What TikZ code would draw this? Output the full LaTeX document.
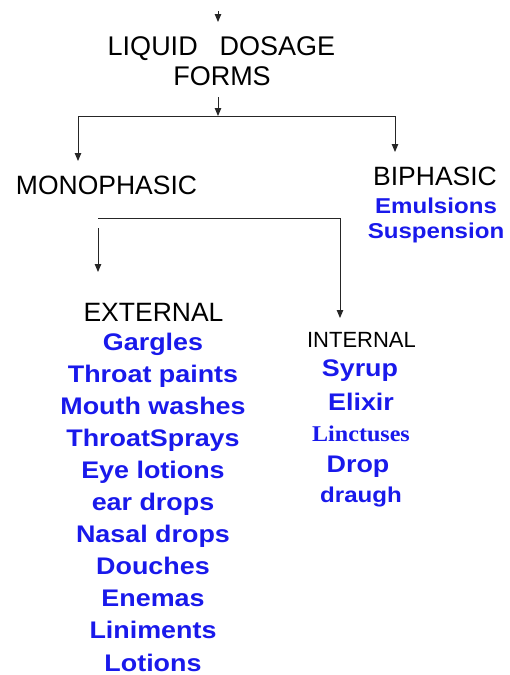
\documentclass[tikz,border=0pt]{standalone}
\usepackage{fontspec}
\setmainfont{Liberation Sans}
\newfontfamily\bluesans[FakeStretch=1.12]{Liberation Sans}
\newfontfamily\blueserif[FakeStretch=1.07]{Liberation Serif}
\usetikzlibrary{arrows.meta}
\definecolor{itemblue}{RGB}{25,25,235}
\tikzset{
  lbl/.style={anchor=base, inner sep=0pt, text=black, font=\fontsize{27}{27}\selectfont},
  sublbl/.style={anchor=base, inner sep=0pt, text=black, font=\fontsize{22}{22}\selectfont},
  item/.style={anchor=base, inner sep=0pt, text=itemblue, font=\bluesans\bfseries\fontsize{24}{24}\selectfont},
  smitem/.style={anchor=base, inner sep=0pt, text=itemblue, font=\bluesans\bfseries\fontsize{21.5}{21.5}\selectfont},
  serifitem/.style={anchor=base, inner sep=0pt, text=itemblue, font=\blueserif\bfseries\fontsize{22.5}{22.5}\selectfont},
  conn/.style={draw=black!85, line width=0.9pt},
  arr/.style={conn, -{Triangle[length=8pt,width=6.5pt]}}
}
\begin{document}
\begin{tikzpicture}[x=1pt,y=-1pt]
\useasboundingbox (0,0) rectangle (509,675);
% title
\node[lbl] (liq) at (221.5,55) {LIQUID\hspace{22pt}DOSAGE};
\node[lbl] (forms) at (222,85) {FORMS};
% top arrow
\coordinate (t0) at (218,11);
\coordinate (t1) at (218,22);
\draw[arr] (t0) -- (t1);
% first split
\coordinate (f0) at (218,97);
\coordinate (j1) at (218,116);
\coordinate (jl) at (78,116);
\coordinate (jr) at (395,116);
\coordinate (ml) at (78,161);
\coordinate (br) at (395,152);
\draw[arr] (f0) -- (j1);
\draw[conn] (jl) -- (jr);
\draw[arr] (jl) -- (ml);
\draw[arr] (jr) -- (br);
% level 2
\node[lbl,font=\fontsize{26.5}{26.5}\selectfont] (mono) at (106.5,194) {MONOPHASIC};
\node[lbl,font=\fontsize{26.5}{26.5}\selectfont] (bi) at (435,185) {BIPHASIC};
\node[smitem] (emul) at (436,213) {Emulsions};
\node[smitem] (susp) at (436,238) {Suspension};
% second split
\coordinate (h0) at (98,218);
\coordinate (h1) at (340,218);
\coordinate (h2) at (340,318);
\coordinate (e0) at (98,228);
\coordinate (e1) at (98,272);
\draw[conn] (h0) -- (h1);
\draw[arr] (h1) -- (h2);
\draw[arr] (e0) -- (e1);
% external
\node[lbl,font=\fontsize{26.5}{26.5}\selectfont] (ext) at (153.5,321) {EXTERNAL};
\node[item] (x1) at (153,350) {Gargles};
\node[item] (x2) at (153,382.1) {Throat paints};
\node[item] (x3) at (153,414.2) {Mouth washes};
\node[item] (x4) at (153,446.3) {ThroatSprays};
\node[item] (x5) at (153,478.4) {Eye lotions};
\node[item] (x6) at (153,510.5) {ear drops};
\node[item] (x7) at (153,542.6) {Nasal drops};
\node[item] (x8) at (153,574.7) {Douches};
\node[item] (x9) at (153,606.8) {Enemas};
\node[item] (x10) at (153,638.9) {Liniments};
\node[item] (x11) at (153,671) {Lotions};
% internal
\node[sublbl] (int) at (361.5,347) {INTERNAL};
\node[item] (i1) at (360,376) {Syrup};
\node[item] (i2) at (361,410) {Elixir};
\node[serifitem] (i3) at (361,441) {Linctuses};
\node[item] (i4) at (358,472) {Drop};
\node[smitem] (i5) at (361,502) {draugh};
\end{tikzpicture}
\end{document}
